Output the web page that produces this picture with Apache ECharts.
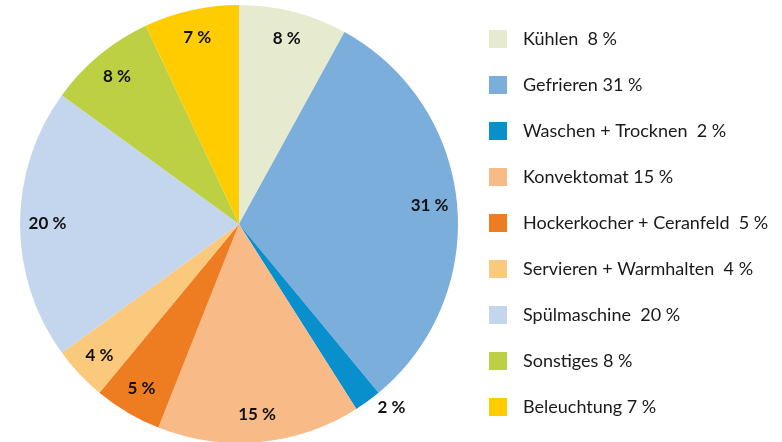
<!DOCTYPE html>
<html>
<head>
<meta charset="utf-8">
<script src="https://cdn.jsdelivr.net/npm/echarts@6/dist/echarts.min.js"></script>
<style>
  html, body { margin: 0; padding: 0; background: #fff; }
  #chart { width: 782px; height: 442px; }
</style>
</head>
<body>
<div id="chart"></div>
<script>
const categories = ['Kühlen', 'Gefrieren', 'Waschen + Trocknen', 'Konvektomat', 'Hockerkocher + Ceranfeld',
  'Servieren + Warmhalten', 'Spülmaschine', 'Sonstiges', 'Beleuchtung'];
const shares = [8, 31, 2, 15, 5, 4, 20, 8, 7];
const legendGap = ['  ', ' ', '  ', ' ', '  ', '  ', '  ', ' ', ' '];
const colors = ['#e6ebcf', '#7baedb', '#0a8fcd', '#f8ba86', '#ee7d22', '#fbc97c', '#c3d6ee', '#bdcf42', '#ffcc00'];

const chart = echarts.init(document.getElementById('chart'));

const pieData = categories.map((name, i) => ({
  name: name,
  value: shares[i],
  itemStyle: { color: colors[i] }
}));

// transparent ring on top, only used to place the labels near the rim
const labelData = categories.map((name, i) => ({
  name: name,
  value: shares[i],
  label: shares[i] < 3 ? { position: 'outside' } : { position: 'inside' }
}));

const options = {
  animation: false,
  legend: {
    orient: 'vertical',
    left: 489,
    top: 30,
    padding: 0,
    itemWidth: 18,
    itemHeight: 18,
    itemGap: 28,
    icon: 'rect',
    selectedMode: false,
    data: categories,
    formatter: (name) => {
      const i = categories.indexOf(name);
      return name + legendGap[i] + shares[i] + ' %';
    },
    textStyle: {
      fontFamily: 'Lato',
      fontSize: 18,
      color: '#1a1a1a',
      padding: [0, 0, 0, 11]
    }
  },
  series: [
    {
      type: 'pie',
      center: [239, 224],
      radius: [0, 219],
      startAngle: 90,
      clockwise: true,
      silent: true,
      label: { show: false },
      labelLine: { show: false },
      data: pieData
    },
    {
      type: 'pie',
      center: [239, 224],
      radius: [158, 219],
      startAngle: 90,
      clockwise: true,
      silent: true,
      itemStyle: { color: 'rgba(0,0,0,0)' },
      label: {
        show: true,
        formatter: '{c} %',
        fontFamily: 'Lato',
        fontWeight: 'bold',
        fontSize: 17,
        color: '#111'
      },
      labelLine: { show: false, length: 8, length2: 0 },
      data: labelData
    }
  ]
};

chart.setOption(options);
</script>
</body>
</html>
